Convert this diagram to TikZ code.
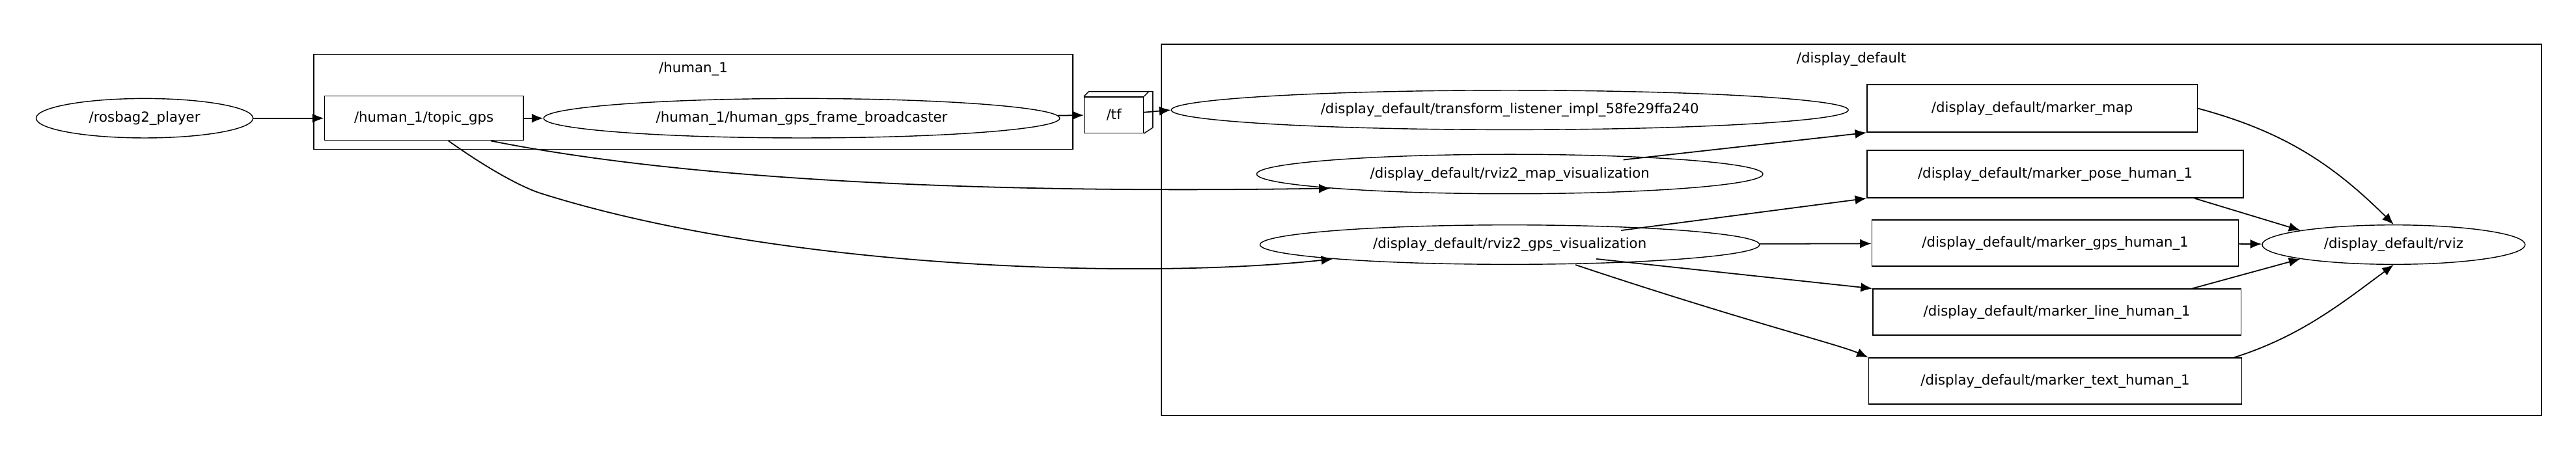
\documentclass[tikz,border=0pt]{standalone}
\usepackage{fontspec}
\setmainfont{DejaVu Sans}
\usetikzlibrary{shapes.geometric,arrows.meta}
\begin{document}
\begin{tikzpicture}[x=0.025cm, y=-0.025cm,
    every node/.style={font=\fontsize{6}{7}\selectfont},
    nd/.style={draw, ellipse, inner sep=0pt},
    tp/.style={draw, rectangle, inner sep=0pt},
    clu/.style={draw},
    ed/.style={-{Latex[length=5pt,width=4pt]}, line width=0.5pt}]
    \useasboundingbox (0,0) rectangle (1568,281);
    % clusters
    \draw[clu] (191,33) rectangle (653,91);
    \node (human-label) at (422,42) {/human\_1};
    \draw[clu] (707,27) rectangle (1547,253);
    \node (display-label) at (1127,36) {/display\_default};

    % nodes
    \node[nd, minimum width=132\pgflinewidth*0+3.3cm, minimum height=0.6cm] (player) at (88,72) {/rosbag2\_player};
    \node[tp, minimum width=3.025cm, minimum height=0.675cm] (gps) at (258,72) {/human\_1/topic\_gps};
    \node[nd, minimum width=7.85cm, minimum height=0.6cm] (broadcaster) at (488,72) {/human\_1/human\_gps\_frame\_broadcaster};
    \node[tp, minimum width=0.9cm, minimum height=0.55cm] (tf) at (678,70) {/tf};
    \draw (tf.north west) -- ++(3,-3) -- ++(39,0) -- ++(0,22) -- (tf.south east);
    \draw (tf.north east) -- ++(3,-3);
    \node[nd, minimum width=10.3cm, minimum height=0.6cm] (listener) at (919,67) {/display\_default/transform\_listener\_impl\_58fe29ffa240};
    \node[nd, minimum width=7.7cm, minimum height=0.6cm] (mapviz) at (919,106) {/display\_default/rviz2\_map\_visualization};
    \node[nd, minimum width=7.6cm, minimum height=0.6cm] (gpsviz) at (919,149) {/display\_default/rviz2\_gps\_visualization};
    \node[tp, minimum width=5.025cm, minimum height=0.725cm] (markermap) at (1237,66) {/display\_default/marker\_map};
    \node[tp, minimum width=5.725cm, minimum height=0.725cm] (markerpose) at (1251,106) {/display\_default/marker\_pose\_human\_1};
    \node[tp, minimum width=5.575cm, minimum height=0.7cm] (markergps) at (1251,148) {/display\_default/marker\_gps\_human\_1};
    \node[tp, minimum width=5.6cm, minimum height=0.7cm] (markerline) at (1252,190) {/display\_default/marker\_line\_human\_1};
    \node[tp, minimum width=5.675cm, minimum height=0.7cm] (markertext) at (1251,232) {/display\_default/marker\_text\_human\_1};
    \node[nd, minimum width=4cm, minimum height=0.6cm] (rviz) at (1457,149) {/display\_default/rviz};

    % edges
    \draw[ed] (player) -- (gps);
    \draw[ed] (gps) -- (broadcaster);
    \draw[ed] (broadcaster) -- (tf);
    \draw[ed] (tf) -- (listener.west);
    \draw[ed] (gps.south east) ++(-20,0) .. controls (420,110) and (600,118) .. (mapviz.south west);
    \draw[ed] (gps.south) ++(15,0) .. controls (300,105) and (320,115) .. (330,118) .. controls (480,165) and (700,170) .. (gpsviz.south west);
    \draw[ed] (mapviz.north east) ++(-40,0) -- (markermap.south west);
    \draw[ed] (gpsviz.north east) ++(-40,0) -- (markerpose.south west);
    \draw[ed] (gpsviz) -- (markergps);
    \draw[ed] (gpsviz.south east) ++(-55,0) -- (markerline.north west);
    \draw[ed] (gpsviz.south) ++(40,0) .. controls (1060,195) and (1120,210) .. (markertext.north west);
    \draw[ed] (markermap.east) .. controls (1390,80) and (1420,100) .. (rviz.north);
    \draw[ed] (markerpose.south east) ++(-30,0) -- (rviz.north west);
    \draw[ed] (markergps) -- (rviz);
    \draw[ed] (markerline.north east) ++(-30,0) -- (rviz.south west);
    \draw[ed] (markertext.north east) ++(-5,0) .. controls (1400,205) and (1425,185) .. (rviz.south);
\end{tikzpicture}
\end{document}
